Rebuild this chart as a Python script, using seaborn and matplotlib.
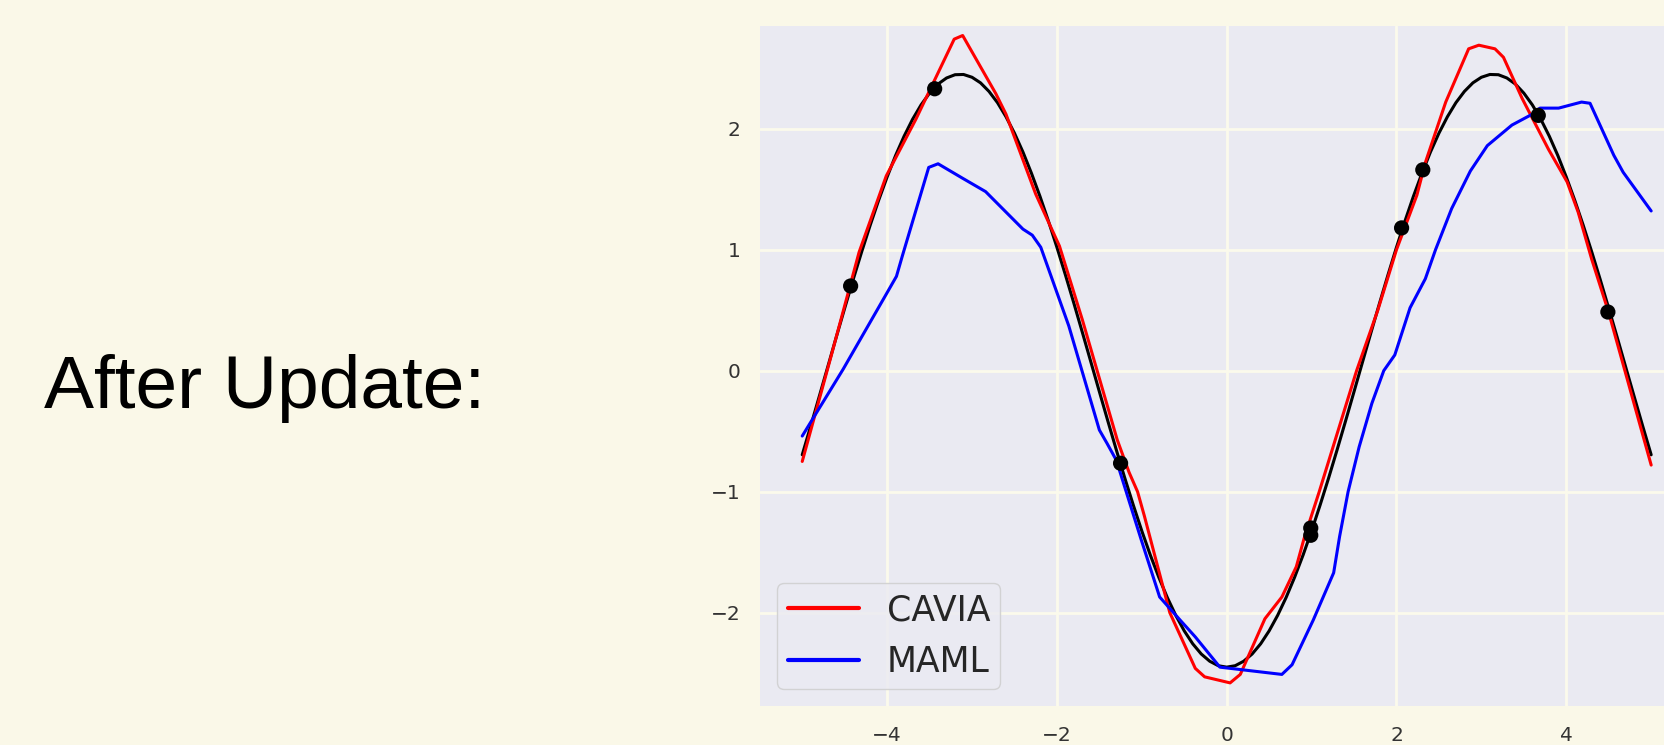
import matplotlib
matplotlib.use("Agg")
import matplotlib.pyplot as plt
import seaborn as sns
import pandas as pd

# ---------------- data ----------------
true_x = [-5.0, -4.9, -4.8, -4.7, -4.6, -4.5, -4.4, -4.3, -4.2, -4.1,
          -4.0, -3.9, -3.8, -3.7, -3.6, -3.5, -3.4, -3.3, -3.2, -3.1,
          -3.0, -2.9, -2.8, -2.7, -2.6, -2.5, -2.4, -2.3, -2.2, -2.1,
          -2.0, -1.9, -1.8, -1.7, -1.6, -1.5, -1.4, -1.3, -1.2, -1.1,
          -1.0, -0.9, -0.8, -0.7, -0.6, -0.5, -0.4, -0.3, -0.2, -0.1,
          0.0, 0.1, 0.2, 0.3, 0.4, 0.5, 0.6, 0.7, 0.8, 0.9,
          1.0, 1.1, 1.2, 1.3, 1.4, 1.5, 1.6, 1.7, 1.8, 1.9,
          2.0, 2.1, 2.2, 2.3, 2.4, 2.5, 2.6, 2.7, 2.8, 2.9,
          3.0, 3.1, 3.2, 3.3, 3.4, 3.5, 3.6, 3.7, 3.8, 3.9,
          4.0, 4.1, 4.2, 4.3, 4.4, 4.5, 4.6, 4.7, 4.8, 4.9, 5.0]
true_y = [-0.695, -0.457, -0.214, 0.030, 0.275, 0.516, 0.753, 0.982, 1.201, 1.408,
          1.601, 1.779, 1.938, 2.078, 2.197, 2.294, 2.369, 2.419, 2.446, 2.448,
          2.425, 2.379, 2.308, 2.215, 2.099, 1.963, 1.807, 1.632, 1.442, 1.237,
          1.020, 0.792, 0.557, 0.316, 0.072, -0.173, -0.416, -0.655, -0.888, -1.111,
          -1.324, -1.523, -1.707, -1.874, -2.022, -2.150, -2.257, -2.341, -2.401, -2.438,
          -2.450, -2.438, -2.401, -2.341, -2.257, -2.150, -2.022, -1.874, -1.707, -1.523,
          -1.324, -1.111, -0.888, -0.655, -0.416, -0.173, 0.072, 0.316, 0.557, 0.792,
          1.020, 1.237, 1.442, 1.632, 1.807, 1.963, 2.099, 2.215, 2.308, 2.379,
          2.425, 2.448, 2.446, 2.419, 2.369, 2.294, 2.197, 2.078, 1.938, 1.779,
          1.601, 1.408, 1.201, 0.982, 0.753, 0.516, 0.275, 0.030, -0.214, -0.457, -0.695]

cavia_x = [-5.0, -4.66, -4.33, -4.01, -3.66, -3.21, -3.11, -2.72, -2.60, -2.25, -1.97, -1.70,
           -1.46, -1.29, -1.15, -1.05, -0.97, -0.67, -0.37, -0.26, 0.04, 0.16, 0.45, 0.65,
           0.82, 0.91, 1.09, 1.53, 1.78, 2.0, 2.24, 2.34, 2.58, 2.85, 2.97, 3.16,
           3.26, 3.48, 3.79, 4.01, 4.14, 4.30, 4.50, 5.0]
cavia_y = [-0.75, 0.12, 0.98, 1.61, 2.08, 2.74, 2.77, 2.29, 2.12, 1.46, 1.03, 0.42,
           -0.16, -0.57, -0.84, -1.0, -1.2, -2.0, -2.46, -2.53, -2.58, -2.51, -2.05, -1.87,
           -1.62, -1.39, -1.0, 0.0, 0.5, 1.0, 1.45, 1.72, 2.22, 2.66, 2.69, 2.66,
           2.59, 2.25, 1.83, 1.56, 1.31, 0.92, 0.48, -0.78]

maml_x = [-5.0, -4.52, -4.0, -3.89, -3.82, -3.51, -3.40, -3.11, -2.84, -2.40, -2.29, -2.19,
          -1.86, -1.50, -1.41, -1.30, -1.01, -0.79, -0.55, -0.37, -0.08, 0.65, 0.77, 1.02,
          1.26, 1.33, 1.43, 1.56, 1.71, 1.85, 1.98, 2.16, 2.34, 2.46, 2.65, 2.87, 3.07,
          3.36, 3.60, 3.69, 3.91, 4.18, 4.28, 4.56, 4.67, 5.0]
maml_y = [-0.54, 0.01, 0.645, 0.78, 0.95, 1.68, 1.71, 1.59, 1.48, 1.17, 1.12, 1.02,
          0.37, -0.49, -0.60, -0.74, -1.39, -1.87, -2.06, -2.20, -2.45, -2.51, -2.43, -2.06,
          -1.67, -1.37, -1.0, -0.63, -0.27, 0.0, 0.13, 0.52, 0.76, 1.0, 1.34, 1.65, 1.86,
          2.03, 2.12, 2.17, 2.17, 2.22, 2.21, 1.78, 1.64, 1.32]

points_x = [-4.43, -3.44, -1.25, 0.99, 0.99, 2.06, 2.31, 3.67, 4.49]
points_y = [0.70, 2.33, -0.765, -1.30, -1.36, 1.18, 1.66, 2.11, 0.485]

x_ticks = [-4, -2, 0, 2, 4]
y_ticks = [-2, -1, 0, 1, 2]
labels = ["CAVIA", "MAML"]

# ---------------- style ----------------
cream = "#FAF8E8"
sns.set_theme(style="darkgrid", rc={"axes.facecolor": "#EAEAF2",
                                     "grid.color": "#FBFAEC",
                                     "grid.linewidth": 2.0,
                                     "figure.facecolor": cream})
plt.rcParams["font.family"] = ["DejaVu Sans"]

fig = plt.figure(figsize=(16.64, 7.45), dpi=100, facecolor=cream)
ax = fig.add_axes([0.4566, 0.0517, 0.5612, 0.9133])

df_true = pd.DataFrame({"x": true_x, "y": true_y})
df_cavia = pd.DataFrame({"x": cavia_x, "y": cavia_y})
df_maml = pd.DataFrame({"x": maml_x, "y": maml_y})
df_pts = pd.DataFrame({"x": points_x, "y": points_y})

sns.lineplot(data=df_true, x="x", y="y", ax=ax, color="black", linewidth=2.2,
             sort=False, estimator=None)
sns.lineplot(data=df_cavia, x="x", y="y", ax=ax, color="red", linewidth=2.2,
             sort=False, estimator=None, label=labels[0])
sns.lineplot(data=df_maml, x="x", y="y", ax=ax, color="blue", linewidth=2.2,
             sort=False, estimator=None, label=labels[1])
sns.scatterplot(data=df_pts, x="x", y="y", ax=ax, color="black", s=120,
                edgecolor="none", zorder=5)

ax.set_xlim(-5.5, 5.5)
ax.set_ylim(-2.775, 2.848)
ax.set_xticks(x_ticks)
ax.set_yticks(y_ticks)
ax.set_xlabel("")
ax.set_ylabel("")
ax.tick_params(axis="both", labelsize=14.5, pad=8, colors="#333333")
for s in ax.spines.values():
    s.set_visible(False)

leg = ax.legend(loc="lower left", fontsize=25, handlelength=2.05,
                labelspacing=0.5, borderpad=0.3, frameon=True,
                facecolor="#EAEAF2", edgecolor="#CCCCCC", framealpha=0.8)
for line in leg.get_lines():
    line.set_linewidth(3.0)
for t in leg.get_texts():
    t.set_color("#262626")

fig.text(44 / 1664, (745 - 408) / 745, "After Update:", fontsize=54,
         family=["Liberation Sans", "DejaVu Sans"], color="black",
         ha="left", va="baseline")

fig.savefig("out.png", dpi=100, facecolor=cream)
